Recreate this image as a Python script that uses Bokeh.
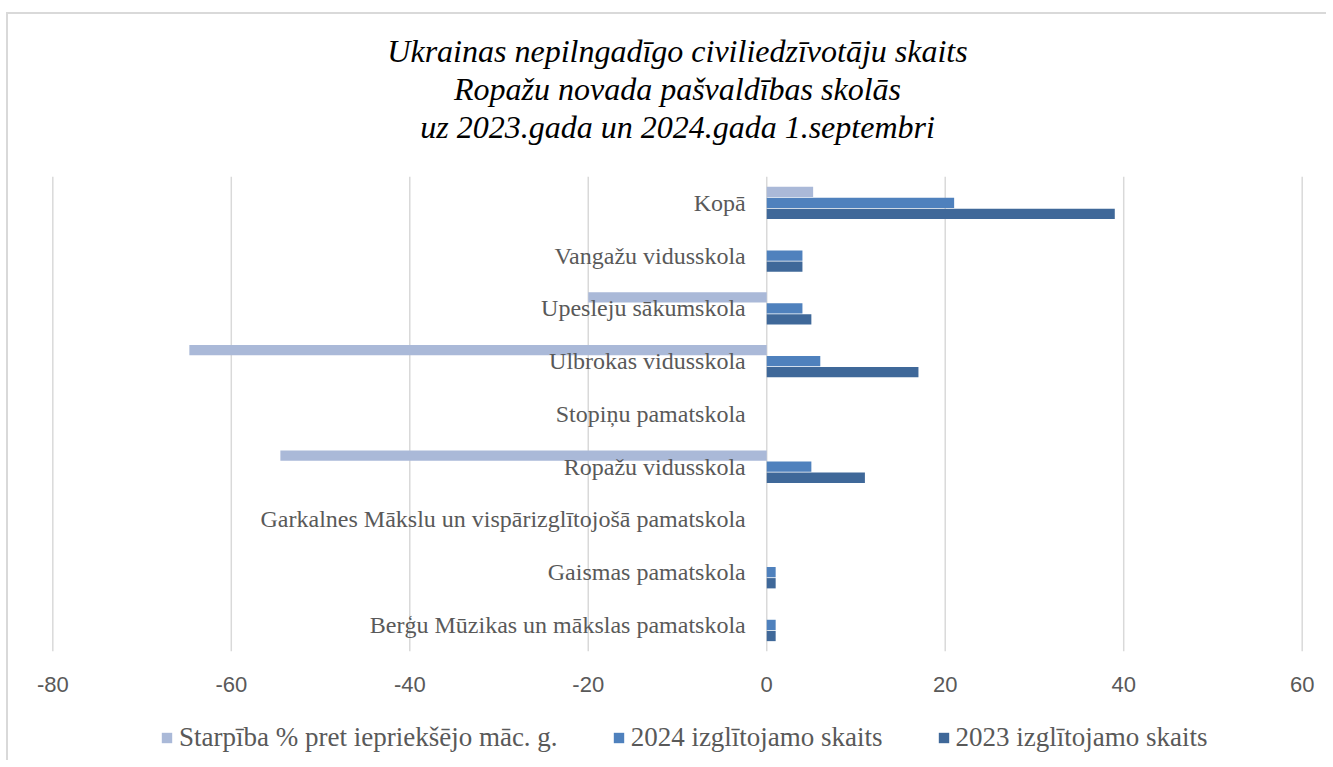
from bokeh.plotting import figure
from bokeh.models import Range1d, FixedTicker, Legend, LegendItem, Title, ColumnDataSource
from bokeh.transform import dodge
from bokeh.core.properties import value
from bokeh.embed import file_html
from bokeh.resources import INLINE

categories = [
    "Berģu Mūzikas un mākslas pamatskola",
    "Gaismas pamatskola",
    "Garkalnes Mākslu un vispārizglītojošā pamatskola",
    "Ropažu vidusskola",
    "Stopiņu pamatskola",
    "Ulbrokas vidusskola",
    "Upesleju sākumskola",
    "Vangažu vidusskola",
    "Kopā",
]
diff_pct = [0, 0, 0, -54.5, 0, -64.7, -20, 0, 5.2]
count_2024 = [1, 1, 0, 5, 0, 6, 4, 4, 21]
count_2023 = [1, 1, 0, 11, 0, 17, 5, 4, 39]
series_names = ["Starpība % pret iepriekšējo māc. g.", "2024 izglītojamo skaits", "2023 izglītojamo skaits"]
x_ticks = [-80, -60, -40, -20, 0, 20, 40, 60]
title_lines = [
    "Ukrainas nepilngadīgo civiliedzīvotāju skaits",
    "Ropažu novada pašvaldības skolās",
    "uz 2023.gada un 2024.gada 1.septembri",
]

colors = ["#AAB9D8", "#4F81BD", "#3F6899"]
SERIF = "Liberation Serif"

ypos = list(range(len(categories)))
y_lo = -0.5
y_hi = len(categories) - 0.5
src = ColumnDataSource(dict(y=ypos, cat=categories, diff=diff_pct, c24=count_2024, c23=count_2023))

pad = 2.5           # x padding so the outer tick labels are not clipped
legend_room = 2.07  # extra space under the categories for tick labels and legend

p = figure(
    frame_width=1294, frame_height=584,
    x_range=Range1d(x_ticks[0] - pad, x_ticks[-1] + pad),
    y_range=Range1d(y_lo - legend_room, y_hi),
    output_backend="svg", toolbar_location=None,
    min_border_left=22, min_border_right=2, min_border_top=162, min_border_bottom=0,
)
p.margin = (12, 0, 0, 6)
p.styles = {"border-top": "2px solid #d9d9d9", "border-left": "2px solid #d9d9d9"}

p.title.visible = False
# spacer between frame and the title block
p.add_layout(Title(text=" ", text_font_size="1px", standoff=29), "above")
for line in reversed(title_lines):
    t = Title(text=line, align="center", text_font=SERIF, text_font_style="italic",
              text_font_size="32px", text_color="#000000", standoff=0)
    p.add_layout(t, "above")

# vertical grid lines limited to the category area
p.xgrid.visible = False
p.ygrid.visible = False
p.segment(x0=x_ticks, x1=x_ticks, y0=y_lo, y1=y_hi, line_color="#d9d9d9", line_width=1.5)

off = 0.21
h = 0.195
r1 = p.hbar(y=dodge("y", off), left=0, right="diff", height=h, source=src,
            fill_color=colors[0], line_color=None)
r2 = p.hbar(y=dodge("y", 0), left=0, right="c24", height=h, source=src,
            fill_color=colors[1], line_color=None)
r3 = p.hbar(y=dodge("y", -off), left=0, right="c23", height=h, source=src,
            fill_color=colors[2], line_color=None)

p.text(x=0, y="y", text="cat", source=src, x_offset=-21, text_align="right", text_baseline="middle",
       text_font=value(SERIF), text_font_size="24px", text_color="#595959")

p.yaxis.visible = False
p.outline_line_color = None

ax = p.xaxis[0]
ax.fixed_location = y_lo
ax.ticker = FixedTicker(ticks=x_ticks)
ax.major_label_overrides = {t: str(t) for t in x_ticks}
ax.axis_line_color = None
ax.major_tick_line_color = None
ax.minor_tick_line_color = None
ax.major_label_standoff = 20
ax.major_label_text_font = "Liberation Sans"
ax.major_label_text_font_size = "22px"
ax.major_label_text_color = "#595959"

legend = Legend(
    items=[LegendItem(label=series_names[0], renderers=[r1]),
           LegendItem(label=series_names[1], renderers=[r2]),
           LegendItem(label=series_names[2], renderers=[r3])],
    orientation="horizontal", location=(130, 7),
    glyph_width=13, glyph_height=13, label_standoff=6, spacing=54,
    label_text_font=SERIF, label_text_font_size="27px", label_text_color="#595959",
    border_line_color=None, background_fill_alpha=0, padding=0, margin=0,
)
p.add_layout(legend, "center")

open("out.html", "w").write(file_html(p, INLINE))
